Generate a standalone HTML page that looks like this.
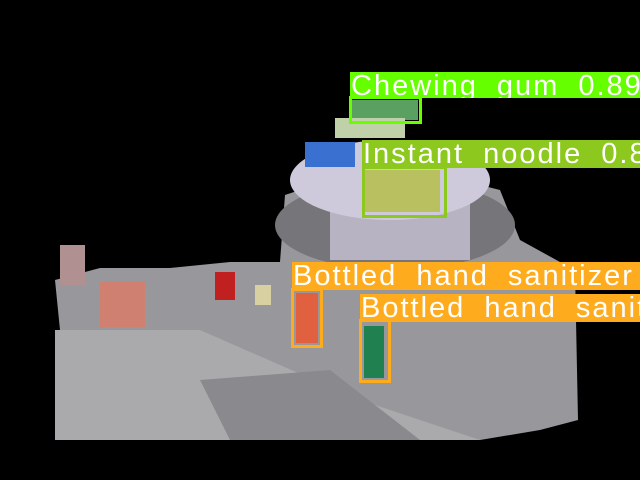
<html><head><style>
body{margin:0;width:640px;height:480px;background:#000;position:relative;overflow:hidden;font-family:"Liberation Sans",sans-serif}
.a{position:absolute}
.lb{position:absolute;color:#fff;font-size:29px;line-height:28px;white-space:nowrap;overflow:hidden;letter-spacing:2px;word-spacing:9px;padding-left:1px}
.bx{position:absolute;border:3px solid;box-sizing:border-box}
</style></head><body>
<svg class="a" width="640" height="480" style="left:0;top:0">
<polygon points="55,280 100,268 170,268 230,262 280,262 285,195 330,180 420,170 500,190 520,240 560,262 575,270 578,420 540,430 480,440 55,440 55,400 70,370 60,330" fill="#98989c"/>
<polygon points="55,330 200,330 360,400 480,440 55,440" fill="#aaaaad"/>
<polygon points="200,380 330,370 420,440 230,440" fill="#8a8a8e"/>
<ellipse cx="395" cy="225" rx="120" ry="45" fill="#75757a"/>
<rect x="330" y="190" width="140" height="70" fill="#b8b3c2"/>
<ellipse cx="390" cy="180" rx="100" ry="40" fill="#cfcadb"/>
<rect x="305" y="142" width="50" height="25" fill="#3a70d0"/>
<rect x="365" y="170" width="75" height="42" fill="#b8c060"/>
<rect x="352" y="100" width="66" height="20" fill="#5aa060"/>
<rect x="335" y="118" width="70" height="20" fill="#c0d0a8"/>
<rect x="296" y="293" width="22" height="50" fill="#e06040"/>
<rect x="364" y="326" width="20" height="52" fill="#208050"/>
<rect x="100" y="282" width="45" height="45" fill="#d08070"/>
<rect x="60" y="245" width="25" height="40" fill="#b09090"/>
<rect x="215" y="272" width="20" height="28" fill="#c02020"/>
<rect x="255" y="285" width="16" height="20" fill="#d8d0a0"/>
</svg>
<div class="lb" style="left:350px;top:72px;width:290px;height:26px;background:#66ff00">Chewing gum 0.89</div>
<div class="bx" style="left:349px;top:96px;width:73px;height:28px;border-color:#66ff00"></div>
<div class="lb" style="left:362px;top:140px;width:278px;height:28px;background:#8cc81e">Instant noodle 0.89</div>
<div class="bx" style="left:362px;top:166px;width:85px;height:52px;border-color:#8cc81e"></div>
<div class="lb" style="left:292px;top:262px;width:348px;height:28px;background:#ffab1e">Bottled hand sanitizer 0.9</div>
<div class="bx" style="left:291px;top:288px;width:32px;height:60px;border-color:#ffab1e"></div>
<div class="lb" style="left:360px;top:294px;width:280px;height:28px;background:#ffab1e">Bottled hand sanitizer</div>
<div class="bx" style="left:359px;top:319px;width:32px;height:64px;border-color:#ffab1e"></div>
</body></html>
